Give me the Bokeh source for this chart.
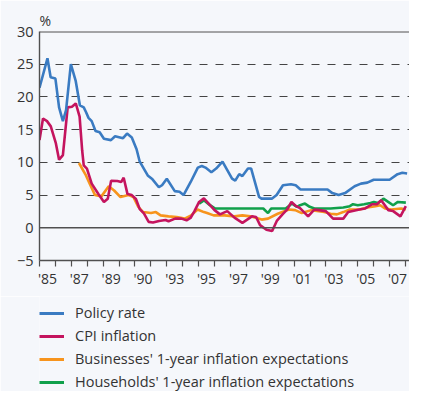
from bokeh.plotting import figure
from bokeh.layouts import column
from bokeh.models import FixedTicker, Span, Legend, LegendItem, Range1d
from bokeh.embed import file_html
from bokeh.resources import INLINE

# ---- data ----
policy_years = [1985.0, 1985.5, 1985.7, 1986.0, 1986.23, 1986.47, 1986.67, 1986.97, 1987.27, 1987.54,
                1987.78, 1987.92, 1988.08, 1988.28, 1988.52, 1988.78, 1989.05, 1989.49, 1989.75, 1990.25,
                1990.5, 1990.8, 1991.1, 1991.3, 1991.8, 1992.1, 1992.5, 1992.7, 1993.0, 1993.5,
                1993.8, 1994.05, 1994.5, 1994.95, 1995.2, 1995.43, 1995.8, 1996.1, 1996.5, 1996.8,
                1997.1, 1997.3, 1997.55, 1997.75, 1998.1, 1998.3, 1998.8, 1998.95, 1999.6, 1999.9,
                2000.3, 2000.8, 2001.1, 2001.4, 2002.0, 2003.1, 2003.4, 2003.8, 2004.2, 2004.8,
                2005.2, 2005.6, 2006.0, 2007.0, 2007.5, 2007.8, 2008.1]
policy_rate = [21.4, 25.9, 23.0, 22.8, 18.4, 16.3, 18.0, 25.0, 22.5, 18.7,
               18.4, 17.7, 16.8, 16.3, 14.8, 14.6, 13.6, 13.4, 14.0, 13.7,
               14.4, 13.8, 12.0, 10.1, 8.0, 7.4, 6.2, 6.5, 7.5, 5.6,
               5.5, 5.0, 7.0, 9.2, 9.45, 9.2, 8.5, 9.05, 10.1, 8.8,
               7.5, 7.2, 8.2, 7.9, 9.05, 9.05, 4.7, 4.45, 4.45, 5.0,
               6.5, 6.65, 6.5, 5.85, 5.85, 5.85, 5.3, 5.0, 5.3, 6.35,
               6.75, 6.9, 7.35, 7.35, 8.2, 8.4, 8.3]

cpi_years = [1985.0, 1985.22, 1985.47, 1985.71, 1986.03, 1986.23, 1986.47, 1986.77, 1987.04, 1987.28,
             1987.52, 1987.68, 1987.78, 1987.98, 1988.28, 1988.69, 1989.05, 1989.29, 1989.5, 1989.89,
             1990.14, 1990.29, 1990.53, 1990.8, 1991.06, 1991.3, 1991.56, 1991.86, 1992.13, 1992.51,
             1992.92, 1993.11, 1993.52, 1993.92, 1994.24, 1994.49, 1994.73, 1995.03, 1995.33, 1995.63,
             1996.0, 1996.34, 1996.8, 1997.25, 1997.75, 1998.05, 1998.35, 1998.61, 1998.86, 1999.26,
             1999.62, 1999.91, 2000.27, 2000.57, 2000.83, 2001.07, 2001.37, 2001.88, 2002.28, 2002.58,
             2002.99, 2003.45, 2004.09, 2004.4, 2005.1, 2005.47, 2005.91, 2006.21, 2006.47, 2006.92,
             2007.22, 2007.68, 2008.02]
cpi_inflation = [13.4, 16.7, 16.3, 15.5, 12.9, 10.4, 11.1, 18.4, 18.5, 19.0,
                 17.0, 11.85, 9.55, 9.05, 6.75, 5.2, 3.95, 4.45, 7.2, 7.15,
                 7.0, 7.65, 5.15, 5.0, 4.4, 2.85, 2.2, 0.9, 0.8, 1.05,
                 1.2, 1.0, 1.4, 1.4, 1.15, 1.5, 2.5, 3.95, 4.5, 3.7,
                 2.7, 2.05, 2.55, 1.55, 0.75, 1.25, 1.75, 1.65, 0.4, -0.3,
                 -0.5, 1.05, 2.05, 2.8, 3.95, 3.4, 3.0, 1.75, 2.8, 2.7,
                 2.55, 1.4, 1.4, 2.4, 2.8, 2.95, 3.6, 3.6, 4.2, 2.7,
                 2.55, 1.75, 3.3]

biz_years = [1987.48, 1987.92, 1988.14, 1988.49, 1988.89, 1989.35, 1989.69, 1990.09, 1990.6, 1990.9,
             1991.21, 1991.51, 1992.01, 1992.31, 1992.61, 1993.11, 1993.62, 1994.12, 1994.53, 1994.93,
             1995.33, 1995.53, 1995.94, 1996.64, 1997.25, 1997.75, 1998.25, 1998.96, 1999.36, 1999.97,
             2000.67, 2001.07, 2001.48, 2002.08, 2002.89, 2003.29, 2003.69, 2004.09, 2004.5, 2005.1,
             2005.6, 2006.11, 2006.41, 2006.71, 2007.11, 2007.72, 2008.02]
biz_expect = [9.9, 8.0, 6.8, 5.0, 4.8, 6.35, 5.7, 4.7, 5.0, 4.7,
              3.2, 2.4, 2.25, 2.4, 1.9, 1.75, 1.65, 1.4, 1.9, 2.8,
              2.4, 2.25, 1.9, 1.9, 1.75, 1.9, 1.75, 1.25, 1.4, 2.15,
              2.8, 2.7, 2.25, 2.7, 2.4, 2.15, 2.05, 2.4, 2.8, 2.8,
              3.1, 3.3, 3.45, 2.95, 2.8, 2.95, 2.8]

hh_years = [1995.03, 1995.33, 1995.69, 1996.04, 1999.06, 1999.36, 1999.56, 2000.47, 2000.87, 2001.18,
            2001.37, 2001.68, 2001.98, 2002.28, 2003.29, 2004.09, 2004.5, 2004.7, 2005.0, 2005.4,
            2005.8, 2006.01, 2006.27, 2006.61, 2006.91, 2007.22, 2007.52, 2008.02]
hh_expect = [3.7, 4.2, 3.5, 2.95, 2.95, 2.25, 2.95, 2.95, 3.7, 3.2,
             3.45, 3.7, 3.2, 2.95, 2.95, 3.1, 3.3, 3.6, 3.45, 3.6,
             3.8, 3.95, 3.8, 4.45, 3.95, 3.45, 3.95, 3.85]

minor_tick_years = list(range(1985, 2009))
label_positions = [1985.5, 1987.5, 1989.5, 1991.5, 1993.5, 1995.5, 1997.5, 1999.5, 2001.5, 2003.5, 2005.5, 2007.5]
x_tick_labels = ["'85", "'87", "'89", "'90", "'93", "'95", "'97", "'99", "'01", "'03", "'05", "'07"]
y_ticks = [-5, 0, 5, 10, 15, 20, 25, 30]
dashed_levels = [5, 10, 15, 20, 25]

series_names = ["Policy rate", "CPI inflation",
                "Businesses' 1-year inflation expectations",
                "Households' 1-year inflation expectations"]
colors = ["#3a7bc2", "#c4145e", "#f7941d", "#10a04b"]

BG = "#f5f7fb"
TXT = "#333333"
AX = "#505050"
FONT = "Open Sans"

p = figure(width=409, height=296, x_range=Range1d(1985, 2008.25), y_range=Range1d(-5, 30),
           output_backend="svg", toolbar_location=None,
           min_border_left=39, min_border_right=0, min_border_top=31, min_border_bottom=36,
           background_fill_color=BG, border_fill_color=BG)
p.outline_line_color = None

# "%" unit label as title above the frame
p.title.text = "%"
p.title.align = "left"
p.title.offset = 0
p.title.standoff = 4
p.title.text_font = FONT
p.title.text_font_size = "14px"
p.title.text_font_style = "normal"
p.title.text_color = TXT

# grid
p.xgrid.visible = False
p.ygrid.ticker = FixedTicker(ticks=dashed_levels)
p.ygrid.grid_line_color = "#444444"
p.ygrid.grid_line_dash = "8 8"
p.ygrid.grid_line_width = 1.2

# axes
xa = p.xaxis[0]
xa.ticker = FixedTicker(ticks=label_positions, minor_ticks=minor_tick_years)
xa.major_label_overrides = {pos: lab for pos, lab in zip(label_positions, x_tick_labels)}
xa.major_tick_out = 0
xa.major_tick_in = 0
xa.minor_tick_out = 6
xa.minor_tick_in = 0
xa.minor_tick_line_color = AX
xa.minor_tick_line_width = 1.2
xa.axis_line_color = AX
xa.axis_line_width = 1.4
xa.major_label_standoff = 2
xa.major_label_text_font = FONT
xa.major_label_text_font_size = "14px"
xa.major_label_text_color = TXT

ya = p.yaxis[0]
ya.ticker = FixedTicker(ticks=y_ticks)
ya.major_tick_out = 0
ya.major_tick_in = 0
ya.minor_tick_out = 0
ya.minor_tick_in = 0
ya.axis_line_color = AX
ya.axis_line_width = 1.4
ya.major_label_standoff = 6
ya.major_label_text_font = FONT
ya.major_label_text_font_size = "14.5px"
ya.major_label_text_color = TXT

p.add_layout(Span(location=0, dimension="width", line_color=AX, line_width=1.4))
p.add_layout(Span(location=30, dimension="width", line_color=AX, line_width=2))

# series (drawn orange, green, red, blue)
series_x = [policy_years, cpi_years, biz_years, hh_years]
series_y = [policy_rate, cpi_inflation, biz_expect, hh_expect]
draw_order = [2, 3, 1, 0]
for i in draw_order:
    p.line(series_x[i], series_y[i], line_color=colors[i], line_width=2.6)

# ---- legend panel (separate figure below the chart; frames are aligned) ----
nan = float("nan")
lg = figure(width=409, height=95, x_range=Range1d(0, 1), y_range=Range1d(0, 1),
            output_backend="svg", toolbar_location=None,
            x_axis_location=None, y_axis_location=None,
            min_border_left=0, min_border_right=0, min_border_top=0, min_border_bottom=0,
            background_fill_color=BG, border_fill_color=BG)
lg.outline_line_color = None
lg.grid.visible = False
key_renderers = [lg.line([nan], [nan], line_color=colors[i], line_width=3) for i in range(4)]
legend = Legend(items=[LegendItem(label=series_names[i], renderers=[key_renderers[i]]) for i in range(4)],
                location=(0, 0), orientation="vertical",
                padding=0, margin=0, spacing=4, glyph_width=25, glyph_height=18, label_height=18,
                label_standoff=11, label_text_font=FONT, label_text_font_size="14.5px",
                label_text_color=TXT, background_fill_alpha=0, border_line_color=None)
lg.add_layout(legend)

layout = column(p, lg, spacing=0)
open("out.html", "w").write(file_html(layout, INLINE))
